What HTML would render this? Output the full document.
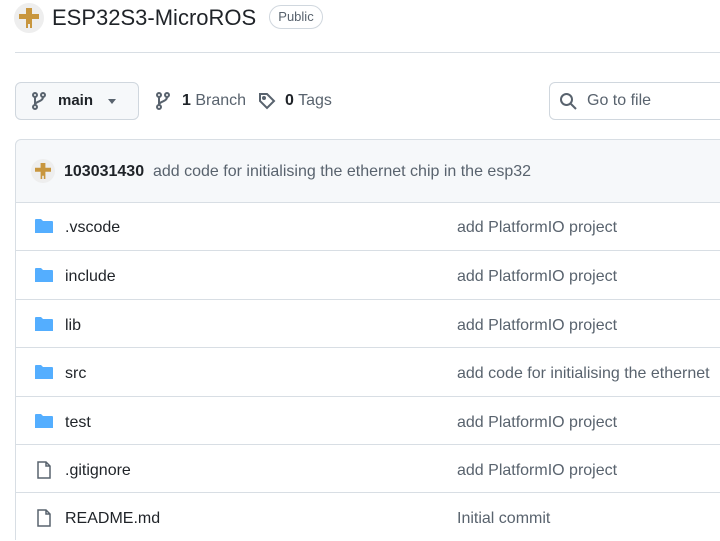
<!DOCTYPE html>
<html><head><style>
body{margin:0;width:720px;height:540px;overflow:hidden;background:#fff;font-family:"Liberation Sans",sans-serif;color:#1f2328;position:relative}
.a{position:absolute}
.row{position:absolute;left:15px;width:720px;height:48px;border-top:1px solid #d8dee4;font-size:16px}
.row .n{position:absolute;left:50px;top:17px}
.row .m{position:absolute;left:442px;top:17px;color:#59636e;white-space:nowrap}
.row svg{position:absolute;left:20px;top:16px}
</style></head><body>
<svg class="a" style="left:14px;top:3px" width="30" height="30" viewBox="0 0 30 30"><circle cx="15" cy="15" r="15" fill="#eee"/><path d="M12 5h6v6h7v5h-7v9h-2v-4h-2v4h-2v-9H5v-5h7z" fill="#c8963e"/></svg>
<div class="a" style="left:52px;top:5px;font-size:22px;color:#1f2328">ESP32S3-MicroROS</div>
<div class="a" style="left:269px;top:5px;width:52px;height:22px;border:1px solid #d0d7de;border-radius:12px;font-size:13px;line-height:22px;text-align:center;color:#59636e">Public</div>
<div class="a" style="left:15px;top:52px;width:705px;height:1px;background:#d8dee4"></div>
<div class="a" style="left:15px;top:82px;width:122px;height:36px;border:1px solid #d0d7de;border-radius:6px;background:#f6f8fa"></div>
<svg class="a" style="left:31px;top:92px" width="16" height="18" viewBox="0 0 16 18" fill="none" stroke="#59636e" stroke-width="2"><circle cx="4" cy="3" r="2"/><circle cx="4" cy="15" r="2"/><circle cx="12" cy="3" r="2"/><path d="M4 5v8M12 5c0 5-8 4-8 8"/></svg>
<div class="a" style="left:58px;top:92px;font-size:15px;font-weight:bold">main</div>
<div class="a" style="left:108px;top:99px;border:4px solid transparent;border-top:5px solid #59636e"></div>
<svg class="a" style="left:155px;top:92px" width="16" height="18" viewBox="0 0 16 18" fill="none" stroke="#59636e" stroke-width="2"><circle cx="4" cy="3" r="2"/><circle cx="4" cy="15" r="2"/><circle cx="12" cy="3" r="2"/><path d="M4 5v8M12 5c0 5-8 4-8 8"/></svg>
<div class="a" style="left:182px;top:92px;font-size:16px;color:#59636e"><b style="color:#1f2328">1</b> Branch</div>
<svg class="a" style="left:258px;top:92px" width="18" height="18" viewBox="0 0 18 18" fill="none" stroke="#59636e" stroke-width="2"><path d="M2 2h7l7 7-7 7-7-7z"/><circle cx="6" cy="6" r="1"/></svg>
<div class="a" style="left:285px;top:92px;font-size:16px;color:#59636e"><b style="color:#1f2328">0</b> Tags</div>
<div class="a" style="left:549px;top:82px;width:180px;height:36px;border:1px solid #d0d7de;border-radius:6px"></div>
<svg class="a" style="left:559px;top:92px" width="18" height="18" viewBox="0 0 18 18" fill="none" stroke="#59636e" stroke-width="2"><circle cx="7.5" cy="7.5" r="5.5"/><path d="M12 12l5 5"/></svg>
<div class="a" style="left:587px;top:92px;font-size:16px;color:#59636e">Go to file</div>
<div class="a" style="left:15px;top:139px;width:720px;height:62px;border:1px solid #d8dee4;border-radius:6px 0 0 0;background:#f6f8fa"></div>
<svg class="a" style="left:31px;top:159px" width="24" height="24" viewBox="0 0 30 30"><circle cx="15" cy="15" r="15" fill="#eee"/><path d="M12 5h6v6h7v5h-7v9h-2v-4h-2v4h-2v-9H5v-5h7z" fill="#c8963e"/></svg>
<div class="a" style="left:64px;top:163px;font-size:16px;white-space:nowrap"><b>103031430</b><span style="color:#59636e">&nbsp; add code for initialising the ethernet chip in the esp32</span></div>
<div class="a" style="left:15px;top:201px;width:1px;height:339px;background:#d8dee4"></div>
<div class="row" style="top:202px;border-top:none"><svg width="18" height="16" viewBox="0 0 18 16"><path d="M0 2a1 1 0 0 1 1-1h5l2 2h9a1 1 0 0 1 1 1v11H0z" fill="#54aeff"/></svg><span class="n">.vscode</span><span class="m">add PlatformIO project</span></div>
<div class="row" style="top:250px"><svg width="18" height="16" viewBox="0 0 18 16"><path d="M0 2a1 1 0 0 1 1-1h5l2 2h9a1 1 0 0 1 1 1v11H0z" fill="#54aeff"/></svg><span class="n">include</span><span class="m">add PlatformIO project</span></div>
<div class="row" style="top:299px"><svg width="18" height="16" viewBox="0 0 18 16"><path d="M0 2a1 1 0 0 1 1-1h5l2 2h9a1 1 0 0 1 1 1v11H0z" fill="#54aeff"/></svg><span class="n">lib</span><span class="m">add PlatformIO project</span></div>
<div class="row" style="top:347px"><svg width="18" height="16" viewBox="0 0 18 16"><path d="M0 2a1 1 0 0 1 1-1h5l2 2h9a1 1 0 0 1 1 1v11H0z" fill="#54aeff"/></svg><span class="n">src</span><span class="m">add code for initialising the ethernet</span></div>
<div class="row" style="top:396px"><svg width="18" height="16" viewBox="0 0 18 16"><path d="M0 2a1 1 0 0 1 1-1h5l2 2h9a1 1 0 0 1 1 1v11H0z" fill="#54aeff"/></svg><span class="n">test</span><span class="m">add PlatformIO project</span></div>
<div class="row" style="top:444px"><svg width="18" height="18" viewBox="0 0 18 18" fill="none" stroke="#59636e" stroke-width="1.5"><path d="M3 1h8l4 4v12H3z M11 1v4h4"/></svg><span class="n">.gitignore</span><span class="m">add PlatformIO project</span></div>
<div class="row" style="top:492px"><svg width="18" height="18" viewBox="0 0 18 18" fill="none" stroke="#59636e" stroke-width="1.5"><path d="M3 1h8l4 4v12H3z M11 1v4h4"/></svg><span class="n">README.md</span><span class="m">Initial commit</span></div>
</body></html>
